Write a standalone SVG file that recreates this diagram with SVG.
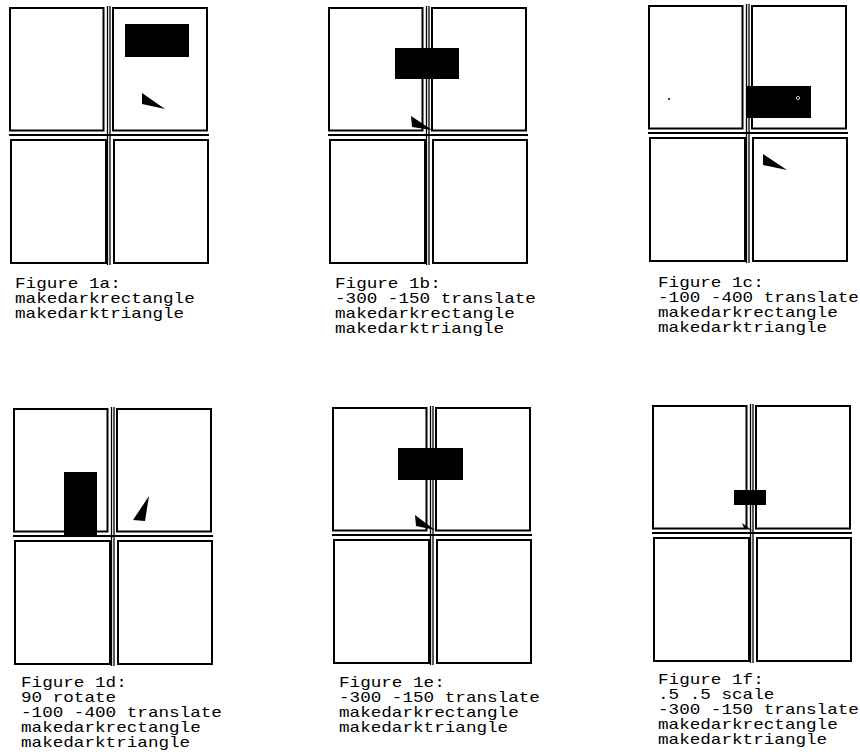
<svg xmlns="http://www.w3.org/2000/svg" xmlns:xlink="http://www.w3.org/1999/xlink" width="860" height="755" viewBox="0 0 860 755">
<style>
.p{fill:none;stroke:#000;stroke-width:2}
.d{fill:none;stroke:#000;stroke-width:1.3}
.k{fill:#000;stroke:none}
.t{font-family:"Liberation Mono","DejaVu Sans Mono",monospace;font-size:14px;fill:#000}
</style>
<defs>
<g id="frame">
<rect class="p" x="0" y="0" width="93.5" height="122.5"/>
<rect class="p" x="103" y="0" width="94" height="122.5"/>
<rect class="p" x="1" y="132" width="95" height="123"/>
<rect class="p" x="104" y="132" width="94" height="123"/>
<line class="d" x1="97.5" y1="-2" x2="97.5" y2="257"/>
<line class="d" x1="100" y1="-2" x2="100" y2="257"/>
<line class="d" x1="-1" y1="127" x2="199" y2="127" style="stroke-width:2"/>
</g>
</defs>
<rect width="860" height="755" fill="#fff"/>

<g id="fig1a">
<use xlink:href="#frame" transform="translate(10,8)"/>
<rect class="k" x="125" y="24" width="64" height="33"/>
<polygon class="k" points="142,93 142,104 165,109"/>
<text class="t" transform="translate(15,288) scale(1.26,1)"><tspan x="0" y="0">Figure 1a:</tspan><tspan x="0" y="15">makedarkrectangle</tspan><tspan x="0" y="30">makedarktriangle</tspan></text>
</g>

<g id="fig1b">
<use xlink:href="#frame" transform="translate(329,8)"/>
<rect class="k" x="395" y="48" width="64" height="31"/>
<polygon class="k" points="411,116 412,127 432,130"/>
<text class="t" transform="translate(335,288) scale(1.26,1)"><tspan x="0" y="0">Figure 1b:</tspan><tspan x="0" y="15">-300 -150 translate</tspan><tspan x="0" y="30">makedarkrectangle</tspan><tspan x="0" y="45">makedarktriangle</tspan></text>
</g>

<g id="fig1c">
<use xlink:href="#frame" transform="translate(649,6)"/>
<rect class="k" x="747" y="86" width="64" height="32"/>
<circle cx="798" cy="98" r="1.6" fill="#000" stroke="#fff" stroke-width="0.8"/>
<circle cx="669" cy="99" r="1" fill="#000"/>
<polygon class="k" points="763,154 763,165 787,170"/>
<text class="t" transform="translate(658,287) scale(1.26,1)"><tspan x="0" y="0">Figure 1c:</tspan><tspan x="0" y="15">-100 -400 translate</tspan><tspan x="0" y="30">makedarkrectangle</tspan><tspan x="0" y="45">makedarktriangle</tspan></text>
</g>

<g id="fig1d">
<use xlink:href="#frame" transform="translate(14,409)"/>
<rect class="k" x="64" y="472" width="33" height="63"/>
<polygon class="k" points="149,496 133,520 145,521"/>
<text class="t" transform="translate(21,687) scale(1.26,1)"><tspan x="0" y="0">Figure 1d:</tspan><tspan x="0" y="15">90 rotate</tspan><tspan x="0" y="30">-100 -400 translate</tspan><tspan x="0" y="45">makedarkrectangle</tspan><tspan x="0" y="60">makedarktriangle</tspan></text>
</g>

<g id="fig1e">
<use xlink:href="#frame" transform="translate(333,408)"/>
<rect class="k" x="398" y="448" width="65" height="32"/>
<polygon class="k" points="415,515 416,526 435,530"/>
<text class="t" transform="translate(339,687) scale(1.26,1)"><tspan x="0" y="0">Figure 1e:</tspan><tspan x="0" y="15">-300 -150 translate</tspan><tspan x="0" y="30">makedarkrectangle</tspan><tspan x="0" y="45">makedarktriangle</tspan></text>
</g>

<g id="fig1f">
<use xlink:href="#frame" transform="translate(653,406)"/>
<rect class="k" x="734" y="490" width="32" height="15"/>
<polygon class="k" points="742,523 744,528 753,531"/>
<text class="t" transform="translate(658,684) scale(1.26,1)"><tspan x="0" y="0">Figure 1f:</tspan><tspan x="0" y="15">.5 .5 scale</tspan><tspan x="0" y="30">-300 -150 translate</tspan><tspan x="0" y="45">makedarkrectangle</tspan><tspan x="0" y="60">makedarktriangle</tspan></text>
</g>
</svg>
